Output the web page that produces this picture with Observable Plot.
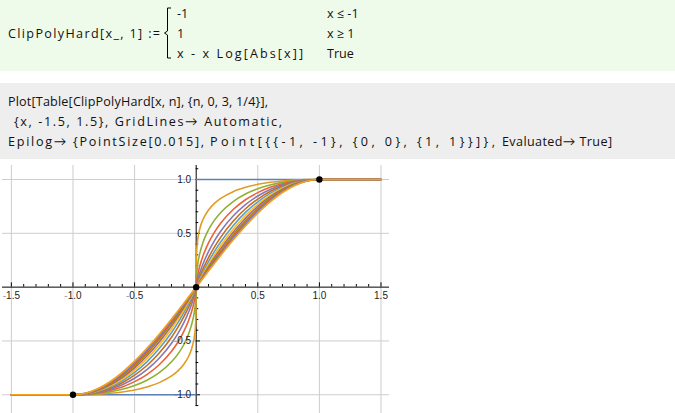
<!DOCTYPE html>
<html>
<head>
<meta charset="utf-8">
<script src="https://cdn.jsdelivr.net/npm/d3@7"></script>
<script src="https://cdn.jsdelivr.net/npm/@observablehq/plot@0.6"></script>
<style>
  html, body { margin: 0; padding: 0; background: #ffffff; }
  body { width: 675px; height: 413px; overflow: hidden; position: relative; }
  #cells { position: absolute; left: 0; top: 0; }
  #chart { position: absolute; left: 0; top: 160px; }
  .code { font-family: "Open Sans", Lato, sans-serif; font-size: 12.6px; fill: #111; white-space: pre; }
</style>
</head>
<body>
<svg id="cells" width="675" height="160" xmlns="http://www.w3.org/2000/svg">
  <rect x="0" y="0" width="675" height="71" fill="#effbea"></rect>
  <rect x="0" y="83" width="675" height="76" fill="#eeeeee"></rect>
  <text class="code" x="8" y="38" textLength="152" lengthAdjust="spacing">ClipPolyHard[x_, 1] :=</text>
  <path d="M171,8 H167.5 V31 L164.5,33 L167.5,35 V58 H171" fill="none" stroke="#000" stroke-width="1"></path>
  <text class="code" x="177" y="18">-1</text>
  <text class="code" x="177" y="38">1</text>
  <text class="code" x="177" y="58" textLength="126" lengthAdjust="spacing">x - x Log[Abs[x]]</text>
  <text class="code" x="327" y="18">x ≤ -1</text>
  <text class="code" x="327" y="38">x ≥ 1</text>
  <text class="code" x="327" y="58">True</text>
  <text class="code" x="8" y="105.5" textLength="260" lengthAdjust="spacing">Plot[Table[ClipPolyHard[x, n], {n, 0, 3, 1/4}],</text>
  <text class="code" x="14" y="125.5" textLength="268" lengthAdjust="spacing">{x, -1.5, 1.5}, GridLines→ Automatic,</text>
  <text class="code" x="8" y="145.5" textLength="196" lengthAdjust="spacing">Epilog→ {PointSize[0.015],</text>
  <text class="code" x="210" y="145.5" textLength="285" lengthAdjust="spacing">Point[{{-1, -1}, {0, 0}, {1, 1}}]},</text>
  <text class="code" x="502" y="145.5" textLength="110" lengthAdjust="spacing">Evaluated→ True]</text>
</svg>
<div id="chart"></div>
<script>
// ---- data ----
const nLabels = ["0", "0.25", "0.5", "0.75", "1", "1.25", "1.5", "1.75", "2", "2.25", "2.5", "2.75", "3"];
const seriesColors = ["#5E81B5", "#E19C24", "#8FB032", "#EB6235", "#8778B3", "#C56E1A", "#5D9EC7", "#FFBF00", "#A5609D", "#929600", "#E95536", "#6685D9", "#F89F13"];

const xGrid = [-1.5, -1, -0.9, -0.8, -0.7, -0.6, -0.5, -0.4, -0.3, -0.2, -0.15, -0.1, -0.06, -0.03, -0.01, -0.002, 0,
               0.002, 0.01, 0.03, 0.06, 0.1, 0.15, 0.2, 0.3, 0.4, 0.5, 0.6, 0.7, 0.8, 0.9, 1, 1.5];

const f000 = [-1, -1, -1, -1, -1, -1, -1, -1, -1, -1, -1, -1, -1, -1, -1, -1, null, 1, 1, 1, 1, 1, 1, 1, 1, 1, 1, 1, 1, 1, 1, 1, 1];
const f025 = [-1, -1, -0.999, -0.994, -0.986, -0.974, -0.955, -0.927, -0.887, -0.825, -0.780, -0.716, -0.640, -0.545, -0.418, -0.281, 0, 0.281, 0.418, 0.545, 0.640, 0.716, 0.780, 0.825, 0.887, 0.927, 0.955, 0.974, 0.986, 0.994, 0.999, 1, 1];
const f050 = [-1, -1, -0.997, -0.989, -0.973, -0.949, -0.914, -0.865, -0.795, -0.694, -0.625, -0.533, -0.430, -0.316, -0.190, -0.087, 0, 0.087, 0.190, 0.316, 0.430, 0.533, 0.625, 0.694, 0.795, 0.865, 0.914, 0.949, 0.973, 0.989, 0.997, 1, 1];
const f075 = [-1, -1, -0.996, -0.984, -0.961, -0.927, -0.878, -0.812, -0.721, -0.596, -0.514, -0.411, -0.305, -0.198, -0.097, -0.032, 0, 0.032, 0.097, 0.198, 0.305, 0.411, 0.514, 0.596, 0.721, 0.812, 0.878, 0.927, 0.961, 0.984, 0.996, 1, 1];
const f100 = [-1, -1, -0.995, -0.979, -0.950, -0.907, -0.847, -0.767, -0.661, -0.522, -0.435, -0.330, -0.229, -0.135, -0.056, -0.014, 0, 0.014, 0.056, 0.135, 0.229, 0.330, 0.435, 0.522, 0.661, 0.767, 0.847, 0.907, 0.950, 0.979, 0.995, 1, 1];
const f125 = [-1, -1, -0.994, -0.974, -0.939, -0.888, -0.818, -0.728, -0.612, -0.465, -0.377, -0.275, -0.181, -0.100, -0.037, -0.008, 0, 0.008, 0.037, 0.100, 0.181, 0.275, 0.377, 0.465, 0.612, 0.728, 0.818, 0.888, 0.939, 0.974, 0.994, 1, 1];
const f150 = [-1, -1, -0.992, -0.969, -0.929, -0.871, -0.793, -0.694, -0.571, -0.421, -0.334, -0.237, -0.151, -0.080, -0.028, -0.006, 0, 0.006, 0.028, 0.080, 0.151, 0.237, 0.334, 0.421, 0.571, 0.694, 0.793, 0.871, 0.929, 0.969, 0.992, 1, 1];
const f175 = [-1, -1, -0.991, -0.964, -0.919, -0.855, -0.770, -0.665, -0.538, -0.387, -0.302, -0.210, -0.130, -0.067, -0.023, -0.005, 0, 0.005, 0.023, 0.067, 0.130, 0.210, 0.302, 0.387, 0.538, 0.665, 0.770, 0.855, 0.919, 0.964, 0.991, 1, 1];
const f200 = [-1, -1, -0.990, -0.960, -0.910, -0.840, -0.750, -0.640, -0.510, -0.360, -0.278, -0.190, -0.116, -0.059, -0.020, -0.004, 0, 0.004, 0.020, 0.059, 0.116, 0.190, 0.278, 0.360, 0.510, 0.640, 0.750, 0.840, 0.910, 0.960, 0.990, 1, 1];
const f225 = [-1, -1, -0.989, -0.956, -0.901, -0.827, -0.732, -0.618, -0.487, -0.339, -0.259, -0.176, -0.107, -0.054, -0.018, -0.004, 0, 0.004, 0.018, 0.054, 0.107, 0.176, 0.259, 0.339, 0.487, 0.618, 0.732, 0.827, 0.901, 0.956, 0.989, 1, 1];
const f250 = [-1, -1, -0.988, -0.952, -0.893, -0.814, -0.716, -0.599, -0.467, -0.321, -0.244, -0.165, -0.099, -0.050, -0.017, -0.003, 0, 0.003, 0.017, 0.050, 0.099, 0.165, 0.244, 0.321, 0.467, 0.599, 0.716, 0.814, 0.893, 0.952, 0.988, 1, 1];
const f275 = [-1, -1, -0.987, -0.948, -0.886, -0.803, -0.701, -0.583, -0.451, -0.307, -0.233, -0.156, -0.094, -0.047, -0.016, -0.003, 0, 0.003, 0.016, 0.047, 0.094, 0.156, 0.233, 0.307, 0.451, 0.583, 0.701, 0.803, 0.886, 0.948, 0.987, 1, 1];
const f300 = [-1, -1, -0.986, -0.944, -0.879, -0.792, -0.688, -0.568, -0.437, -0.296, -0.223, -0.150, -0.090, -0.045, -0.015, -0.003, 0, 0.003, 0.015, 0.045, 0.090, 0.150, 0.223, 0.296, 0.437, 0.568, 0.688, 0.792, 0.879, 0.944, 0.986, 1, 1];

const pointX = [-1, 0, 1];
const pointY = [-1, 0, 1];

const gridXs = [-1.5, -1, -0.5, 0.5, 1, 1.5];
const gridYs = [-1, -0.5, 0.5, 1];
const xTickValues = [-1.5, -1, -0.5, 0.5, 1, 1.5];
const xTickLabels = ["-1.5", "-1.0", "-0.5", "0.5", "1.0", "1.5"];
const yTickValues = [-1, -0.5, 0.5, 1];
const yTickLabels = ["-1.0", "-0.5", "0.5", "1.0"];
const xMinorTicks = [-1.4, -1.3, -1.2, -1.1, -0.9, -0.8, -0.7, -0.6, -0.4, -0.3, -0.2, -0.1, 0.1, 0.2, 0.3, 0.4, 0.6, 0.7, 0.8, 0.9, 1.1, 1.2, 1.3, 1.4];
const yMinorTicks = [-1.1, -0.9, -0.8, -0.7, -0.6, -0.4, -0.3, -0.2, -0.1, 0.1, 0.2, 0.3, 0.4, 0.6, 0.7, 0.8, 0.9, 1.1];
const yAxisExtent = [-1.11, 1.13];

// ---- build table ----
const allSeries = [f000, f025, f050, f075, f100, f125, f150, f175, f200, f225, f250, f275, f300];
const rows = [];
allSeries.forEach((ys, k) => ys.forEach((y, i) => rows.push({x: xGrid[i], y: y, n: nLabels[k]})));
const points = pointX.map((x, i) => ({x, y: pointY[i]}));

const chart = Plot.plot({
  width: 675,
  height: 253,
  marginLeft: 2,
  marginRight: 286,
  marginTop: 5,
  marginBottom: 0,
  style: {background: "transparent", fontFamily: "'Liberation Sans', Arial, sans-serif", fontSize: "10px"},
  x: {domain: [-1.572, 1.569], axis: null},
  y: {domain: [-1.174, 1.13], axis: null},
  color: {domain: nLabels, range: seriesColors},
  marks: [
    Plot.ruleX(gridXs, {stroke: "#cdcdcd", strokeWidth: 1}),
    Plot.ruleY(gridYs, {stroke: "#cdcdcd", strokeWidth: 1}),
    Plot.ruleY([0], {stroke: "#000", strokeWidth: 1}),
    Plot.ruleX([0], {y1: yAxisExtent[0], y2: yAxisExtent[1], stroke: "#000", strokeWidth: 1}),
    Plot.ruleX(xTickValues, {x: d => d, y1: 0, y2: 0.04, stroke: "#000"}),
    Plot.ruleX(xMinorTicks, {x: d => d, y1: 0, y2: 0.024, stroke: "#000"}),
    Plot.ruleY(yTickValues, {y: d => d, x1: 0, x2: 0.035, stroke: "#000"}),
    Plot.ruleY(yMinorTicks, {y: d => d, x1: 0, x2: 0.021, stroke: "#000"}),
    Plot.line(rows, {x: "x", y: "y", z: "n", stroke: "n", strokeWidth: 1.6, curve: "monotone-x"}),
    Plot.text(xTickValues, {x: d => d, y: 0, text: (d, i) => xTickLabels[i], dy: 9, fill: "#222", fontSize: 10}),
    Plot.text(yTickValues, {x: 0, y: d => d, text: (d, i) => yTickLabels[i], dx: -5, textAnchor: "end", fill: "#222", fontSize: 10}),
    Plot.dot(points, {x: "x", y: "y", r: 3.2, fill: "#000", stroke: "none"})
  ]
});
document.getElementById("chart").appendChild(chart);

// lighter minus sign on negative tick labels, as in the reference
d3.select(chart).selectAll("text").each(function () {
  const t = this.textContent;
  if (t && t.startsWith("-")) {
    const sel = d3.select(this);
    sel.text(null);
    sel.append("tspan").attr("fill", "#9a9a9a").text("-");
    sel.append("tspan").text(t.slice(1));
  }
});
</script>
</body>
</html>
